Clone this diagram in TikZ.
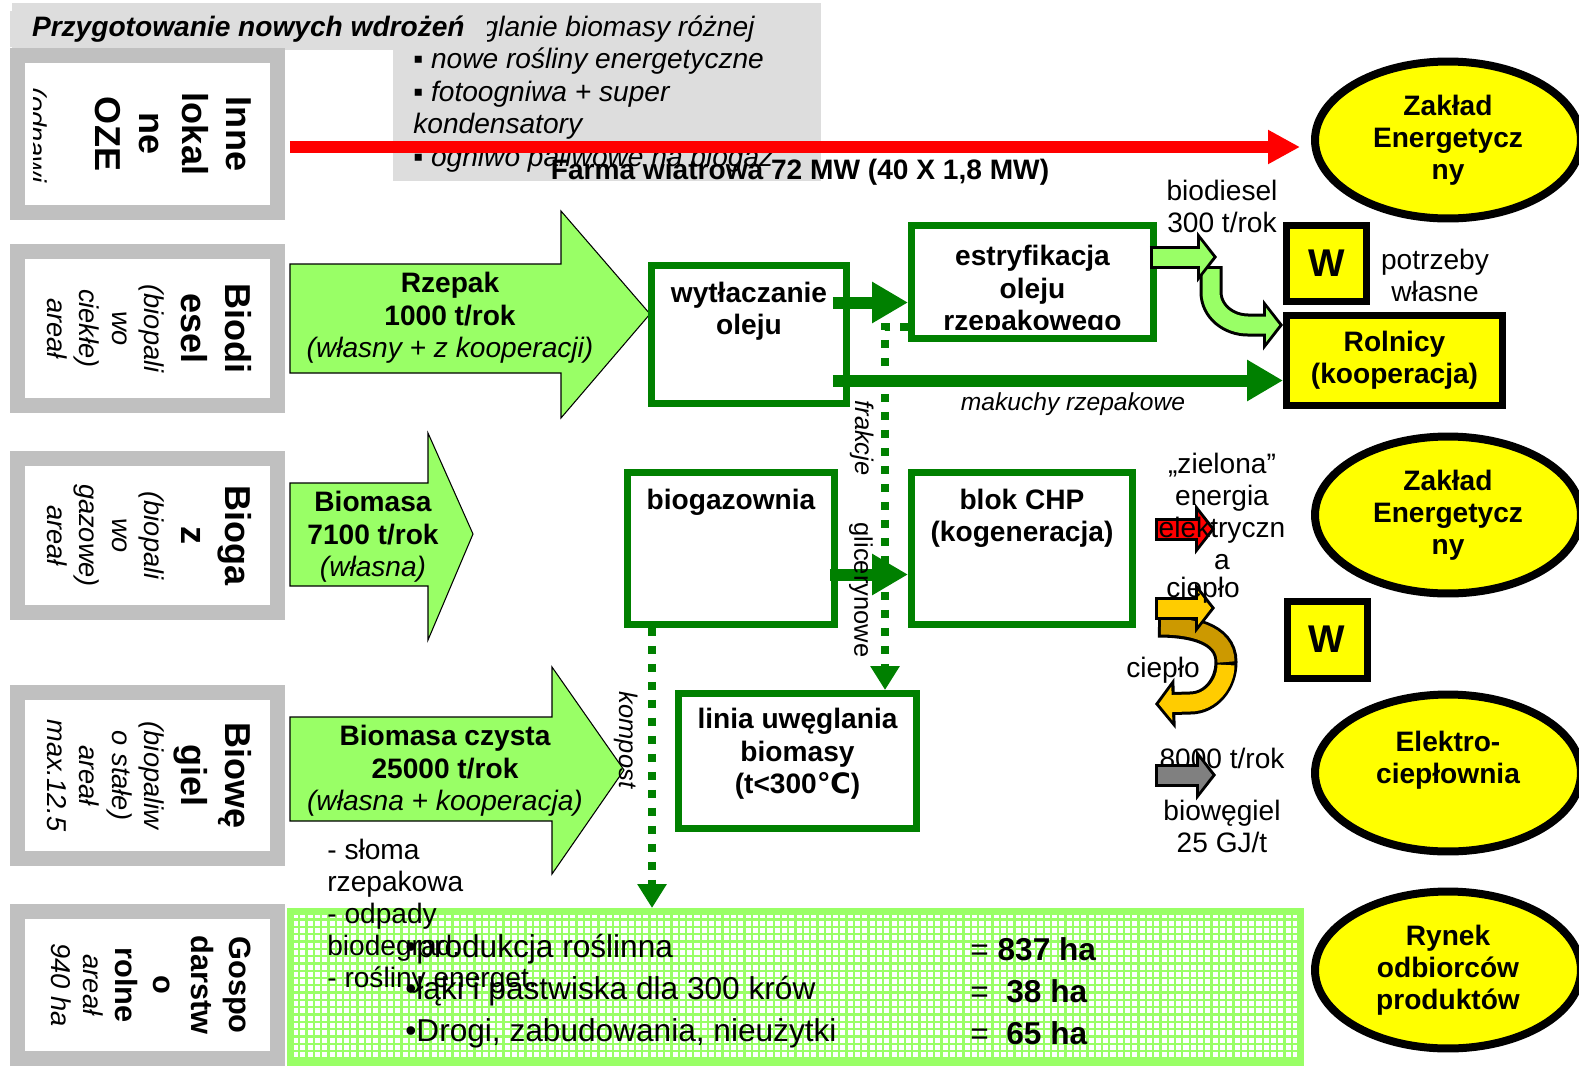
\documentclass[tikz,border=0pt]{standalone}
\usepackage{fontspec}
\setmainfont{Liberation Sans}
\newfontfamily\dejavu{DejaVu Sans}
\usetikzlibrary{positioning,calc,arrows.meta,shapes.geometric}
\definecolor{fgray}{RGB}{192,192,192}
\definecolor{hgray}{RGB}{221,221,221}
\definecolor{lgreen}{RGB}{153,255,102}
\definecolor{dgreen}{RGB}{0,128,0}
\definecolor{yel}{RGB}{255,255,0}
\definecolor{gold}{RGB}{255,204,0}
\definecolor{dgold}{RGB}{204,153,0}
\definecolor{agray}{RGB}{128,128,128}
\tikzset{lframe/.style={draw=fgray, line width=0.3cm, fill=white, inner sep=0, minimum width=5.2cm}}
\tikzset{lbold/.style={rotate=-90, anchor=north, align=center, inner sep=0, font=\fontsize{20.5}{25}\selectfont\bfseries}}
\tikzset{lital/.style={rotate=-90, anchor=north, align=center, inner sep=0, font=\fontsize{15.5}{18.5}\selectfont\itshape}}
\tikzset{bigarr/.style={draw=black, line width=0.6pt, fill=lgreen}}
\tikzset{atext/.style={align=center, inner sep=0, font=\fontsize{16}{18.4}\selectfont\bfseries}}
\tikzset{pbox/.style={draw=dgreen, line width=0.14cm, fill=white, inner sep=0}}
\tikzset{ybox/.style={draw=black, line width=0.14cm, fill=yel, inner sep=0, align=center, font=\fontsize{16}{18.2}\selectfont\bfseries}}
\tikzset{yell/.style={ellipse, draw=black, line width=0.16cm, fill=yel, minimum width=5.32cm, minimum height=3.14cm, inner sep=0, align=center, font=\fontsize{16}{18.2}\selectfont\bfseries}}
\tikzset{lab/.style={align=center, inner sep=0, font=\fontsize{16}{18.2}\selectfont}}
\tikzset{rarr/.style={draw=red, line width=0.24cm, -{Triangle[length=0.64cm,width=0.64cm]}}}
\tikzset{garr/.style={draw=dgreen, line width=0.24cm, -{Triangle[length=0.72cm,width=0.78cm]}}}
\tikzset{gdot/.style={draw=dgreen, line width=0.16cm, dash pattern=on 0.16cm off 0.2cm, -{Triangle[length=0.48cm,width=0.56cm]}}}
\tikzset{bko/.style={draw=black, line width=0.46cm, -{Triangle[length=0.4cm,width=1cm]}}}
\tikzset{bin/.style={draw=#1, line width=0.34cm, shorten <=0.06cm, shorten >=0.077cm, -{Triangle[length=0.26cm,width=0.66cm]}}}
\begin{document}
\begin{tikzpicture}[x=0.02cm, y=-0.02cm]
\useasboundingbox (0,0) rectangle (1579,1069);
%
\fill[hgray] (12,3) rectangle (821,50);
\fill[hgray] (393,50) rectangle (821,181);
\node[lab, anchor=west, align=left, font=\fontsize{16}{18.5}\selectfont\itshape] (plan) at (413,94)
  {▪ uwęglanie biomasy różnej\\▪ nowe rośliny energetyczne\\▪ fotoogniwa + super\\kondensatory\\▪ ogniwo paliwowe na biogaz};
\node[fill=hgray, inner xsep=0.44cm, inner ysep=0.1cm, anchor=east, font=\fontsize{16}{18.2}\selectfont\bfseries\itshape] (head) at (487,29) {Przygotowanie nowych wdrożeń};
%
\node[lframe, minimum height=3.14cm] (inne) at (147.5,134) {};
\begin{scope}
  \clip (25,63) rectangle (270,205);
  \node[lbold] (inneA) at (252,134) {Inne\\lokal\\ne\\OZE};
\end{scope}
\begin{scope}
  \clip (33,63) rectangle (270,205);
  \node[lital] (inneB) at (48,135) {(odnawi};
\end{scope}
\node[lframe, minimum height=3.08cm] (biod) at (147.5,328.5) {};
\begin{scope}
  \clip (25,259) rectangle (270,398);
  \node[lbold] (biodA) at (252,328.5) {Biodi\\esel};
  \node[lital] (biodB) at (165,328.5) {(biopali\\wo\\ciekłe)\\areał};
\end{scope}
\node[lframe, minimum height=3.08cm] (biog) at (147.5,535.5) {};
\begin{scope}
  \clip (25,466) rectangle (270,605);
  \node[lbold] (biogA) at (252,535.5) {Bioga\\z};
  \node[lital] (biogB) at (165,535.5) {(biopali\\wo\\gazowe)\\areał};
\end{scope}
\node[lframe, minimum height=3.32cm] (biow) at (147.5,775.5) {};
\begin{scope}
  \clip (25,700) rectangle (270,851);
  \node[lbold] (biowA) at (252,775.5) {Biowę\\giel};
  \node[lital] (biowB) at (165,775.5) {(biopaliw\\o stałe)\\areał\\max.12.5};
\end{scope}
\node[lframe, minimum height=2.94cm] (gosp) at (147.5,985) {};
\begin{scope}
  \clip (25,919) rectangle (270,1051);
  \node[lbold, font=\fontsize{17.5}{21.6}\selectfont\bfseries] (gospA) at (251,985) {Gospo\\darstw\\o\\rolne};
  \node[lital] (gospB) at (104,985) {areał\\940 ha};
\end{scope}
%
\node[yell] (ze1) at (1448,140) {Zakład\\Energetycz\\ny};
\node[yell] (ze2) at (1448,515) {Zakład\\Energetycz\\ny};
\node[yell] (ec) at (1448,773) {Elektro-\\ciepłownia\\\mbox{}};
\node[yell] (ryn) at (1448,970) {Rynek\\odbiorców\\produktów};
\node[ybox, minimum width=1.6cm, minimum height=1.52cm, font=\fontsize{22}{24}\selectfont\bfseries] (w1) at (1326.5,263.5) {W};
\node[ybox, minimum width=1.6cm, minimum height=1.54cm, font=\fontsize{22}{24}\selectfont\bfseries] (w2) at (1327,639.5) {W};
\node[ybox, minimum width=4.32cm, minimum height=1.8cm] (rol) at (1394.5,360.5) {Rolnicy\\(kooperacja)};
%
\draw[rarr, shorten >=0.22cm] ($(inne.east)+(5,13)$) coordinate (r0) -- (r0 -| ze1.west);
\node[atext] (farma) at (800,172) {Farma wiatrowa 72 MW (40 X 1,8 MW)};
%
\draw[bigarr] (290,264) -- (561,264) -- (561,211) -- (650,314) -- (561,418) -- (561,373) -- (290,373) -- cycle;
\node[atext] (rzep) at (450,318) {Rzepak\\1000 t/rok\\{\normalfont\itshape (własny + z kooperacji)}};
\draw[bigarr] (290,483) -- (428,483) -- (428,433) -- (473,534) -- (428,640) -- (428,586) -- (290,586) -- cycle;
\node[atext] (bm) at (373,537) {Biomasa\\7100 t/rok\\{\normalfont\itshape (własna)}};
\draw[bigarr] (290,717) -- (552,717) -- (552,667) -- (624,770) -- (552,874) -- (552,821) -- (290,821) -- cycle;
\node[atext] (bmc) at (445,771) {Biomasa czysta\\25000 t/rok\\{\normalfont\itshape (własna + kooperacja)}};
%
\node[pbox, minimum width=3.9cm, minimum height=2.76cm] (wyt) at (749,334.5) {};
\node[atext] (wytT) at (749,311) {wytłaczanie\\oleju};
\node[pbox, minimum width=4.84cm, minimum height=2.26cm] (estr) at (1032.5,282) {};
\begin{scope}
  \clip (908,222) rectangle (1157,329);
  \node[atext] (estrT) at (1032.5,291) {estryfikacja\\oleju\\rzepakowego};
\end{scope}
\node[pbox, minimum width=4.14cm, minimum height=3.04cm] (biogaz) at (731,548.5) {};
\node[atext] (biogazT) at (731,502) {biogazownia};
\node[pbox, minimum width=4.42cm, minimum height=3.04cm] (chp) at (1022,548.5) {};
\node[atext] (chpT) at (1022,518) {blok CHP\\(kogeneracja)};
\node[pbox, minimum width=4.76cm, minimum height=2.7cm] (linia) at (797.5,761) {};
\node[atext] (liniaT) at (797.5,754) {linia uwęglania\\biomasy\\(t<300{\dejavu ℃})};
%
\draw[garr] ($(wyt.east)+(-17,-32)$) coordinate (a1) -- (a1 -| estr.west);
\draw[garr] ($(wyt.east)+(-17,46)$) coordinate (a2) -- (a2 -| rol.west);
\draw[garr] ($(biogaz.east)+(-8,26)$) coordinate (a3) -- (a3 -| chp.west);
\node[lab, font=\fontsize{14}{16}\selectfont\itshape] (mak) at (1073,404) {makuchy rzepakowe};
%
\node[draw=lgreen, line width=0.14cm, fill=white, inner sep=0, minimum width=20.2cm, minimum height=3.02cm] (pole) at (795.5,987) {};
\draw[lgreen, line width=0.045cm, step=0.146cm] (291,912) grid (1300,1062);
%
\draw[gdot] ($(estr.south west)+(0,-15)$) -| ($(linia.north west)+(210,0)$);
\draw[gdot] ($(biogaz.south west)+(28,0)$) coordinate (k0) -- (k0 |- pole.north);
\node[lab, rotate=-90, font=\fontsize{14.5}{16}\selectfont\itshape] (frak) at (862,438) {frakcje};
\node[lab, rotate=-90, font=\fontsize{14.5}{16}\selectfont] (glic) at (861,590) {glicerynowe};
\node[lab, rotate=-90, font=\fontsize{14.5}{16}\selectfont\itshape] (komp) at (626,740) {kompost};
%
\node[lab] (bdl) at (1222,206) {biodiesel\\300 t/rok};
\node[lab] (potr) at (1435,275) {potrzeby\\własne};
\draw[bko] (1211,266) coordinate (c0) -- (1211,292) to[out=-90,in=180] (1248,325) -- ($(rol.north west)+(0,13)$);
\draw[bin=lgreen] (c0) -- (1211,292) to[out=-90,in=180] (1248,325) -- ($(rol.north west)+(0,13)$);
\draw[bko] ($(estr.east)+(-7,-25)$) coordinate (b0) -- (1217,257) coordinate (b1);
\draw[bin=lgreen] (b0) -- (b1);
%
\draw[bko] (1155,529) coordinate (e0) -- (1215,529) coordinate (e1);
\draw[bin=red] (e0) -- (e1);
\node[lab] (ziel) at (1222,511) {„zielona”\\energia\\elektryczn\\a};
%
\draw[bko] (1158,626) coordinate (u0) to[out=0,in=90] (1226,662) coordinate (u1) to[out=-90,in=0] (1190,703) -- (1155,704) coordinate (u2);
\draw[draw=dgold, line width=0.34cm, shorten <=0.06cm] (u0) to[out=0,in=90] (u1);
\draw[bin=gold] (u1) to[out=-90,in=0] (1190,703) -- (u2);
\draw[bko] (1155,608) coordinate (h0) -- (1215,608) coordinate (h1);
\draw[bin=gold] (h0) -- (h1);
\node[lab] (cp1) at (1203,590) {ciepło};
\node[lab] (cp2) at (1163,670) {ciepło};
%
\node[lab] (t8) at (1222,758) {8000 t/rok};
\draw[bko] (1155,775) coordinate (g0) -- (1216,775) coordinate (g1);
\draw[bin=agray] (g0) -- (g1);
\node[lab] (bw) at (1222,826) {biowęgiel\\25 GJ/t};
%
\node[lab, anchor=west, align=left, font=\fontsize{18}{23.9}\selectfont] (prod) at (405,991) {•produkcja roślinna\\•łąki i pastwiska dla 300 krów\\•Drogi, zabudowania, nieużytki};
\node[lab, anchor=west, align=left, font=\fontsize{18}{23.9}\selectfont] (ha) at (970,991) {= \textbf{837 ha}\\=\ \ \textbf{38 ha}\\=\ \ \textbf{65 ha}};
\node[lab, anchor=west, align=left] (sl) at (327,916) {- słoma\\rzepakowa\\- odpady\\biodegrad.\\- rośliny energet.};
\end{tikzpicture}
\end{document}
